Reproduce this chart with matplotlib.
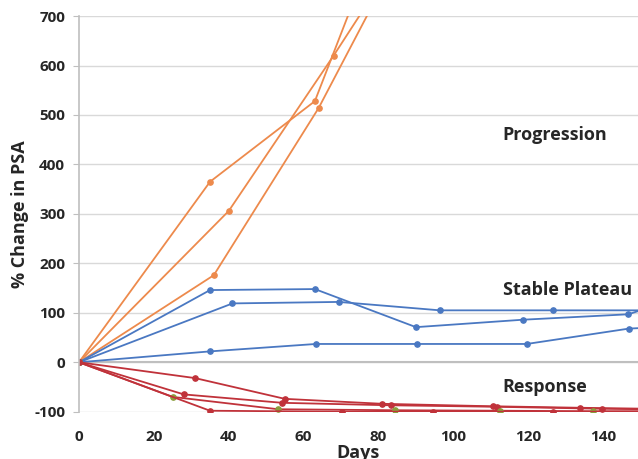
import matplotlib.pyplot as plt

plt.rcParams['font.family'] = ['Open Sans', 'DejaVu Sans']
plt.rcParams['axes.unicode_minus'] = False

# progression (orange)
prog_days = [[0, 35, 63, 80], [0, 40, 68, 80], [0, 36, 64, 80]]
prog_psa = [[0, 365, 528, 860], [0, 306, 620, 760], [0, 176, 514, 745]]

# stable plateau (blue)
stab_days = [[0, 35, 63, 90, 118.5, 146.7, 152],
             [0, 41, 69.4, 96.4, 126.5, 152],
             [0, 35, 63.3, 90.4, 119.6, 146.8, 152]]
stab_psa = [[0, 146, 148, 71, 86, 97, 110],
            [0, 119, 122, 105, 105, 105],
            [0, 22, 37, 37, 37, 68, 70]]

# response (red)
resp_days = [[0, 31, 55, 81, 110.5, 133.7, 152],
             [0, 28, 54.3, 83.3, 111.6, 139.6, 152],
             [0, 25, 53.2, 84.4, 112.5, 137.4, 152],
             [0, 35, 70.3, 94.5, 126.5, 152]]
resp_psa = [[0, -32, -74, -84, -89, -92, -94],
            [0, -65, -82, -87, -90, -94, -95],
            [0, -70, -95, -97, -98, -99, -99],
            [0, -98, -100, -100, -100, -100]]

orange = '#ED8A4C'
blue = '#4A78C2'
red = '#C0323A'

fig = plt.figure(figsize=(6.38, 4.59), dpi=100)
ax = fig.add_axes([0.1238, 0.103, 0.8762, 0.862])

for d, v in zip(prog_days, prog_psa):
    ax.plot(d, v, color=orange, lw=1.3, marker='o', ms=3.8)
for d, v in zip(stab_days, stab_psa):
    ax.plot(d, v, color=blue, lw=1.3, marker='o', ms=3.8)
for i, (d, v) in enumerate(zip(resp_days, resp_psa)):
    mfc = '#8A9E3C' if i == 2 else red
    ax.plot(d, v, color=red, lw=1.3, marker='o', ms=3.8, mfc=mfc, mec=mfc)

ax.set_xlim(0, 149.3)
ax.set_ylim(-100, 700)
ax.set_yticks(range(-100, 701, 100))
ax.set_xticks(range(0, 141, 20))
ax.grid(axis='y', color='#D9D9D9', lw=1)
ax.set_axisbelow(True)
ax.axhline(0, color='#BFBFBF', lw=1.5, zorder=1)
for s in ['top', 'right', 'bottom']:
    ax.spines[s].set_visible(False)
ax.spines['left'].set_color('#BFBFBF')
ax.spines['left'].set_linewidth(1.2)
ax.tick_params(axis='y', length=4, color='#BFBFBF', labelsize=11, labelcolor='#262626', pad=6)
ax.tick_params(axis='x', length=0, labelsize=11, labelcolor='#262626', pad=13)
for lbl in ax.get_xticklabels() + ax.get_yticklabels():
    lbl.set_fontweight('bold')

ax.set_ylabel('% Change in PSA', fontsize=13, fontweight='bold', color='#262626', labelpad=4)
ax.set_xlabel('Days', fontsize=13, fontweight='bold', color='#262626', labelpad=0)

ax.text(127, 460, 'Progression', fontsize=13, fontweight='bold', color='#262626', ha='center', va='center')
ax.text(130.5, 146, 'Stable Plateau', fontsize=13, fontweight='bold', color='#262626', ha='center', va='center')
ax.text(124.5, -50, 'Response', fontsize=13, fontweight='bold', color='#262626', ha='center', va='center')

fig.savefig('out.png', dpi=100)
